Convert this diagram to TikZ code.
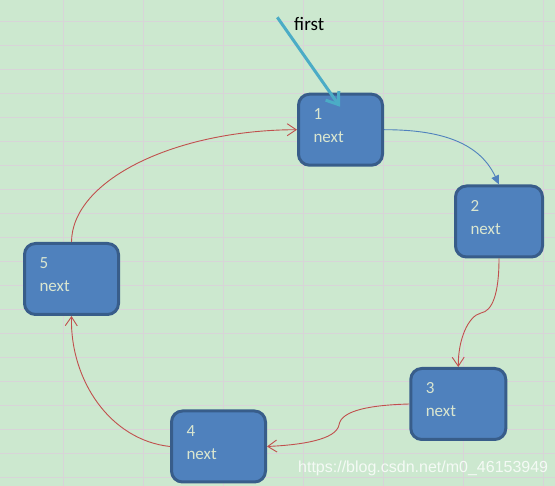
\documentclass[tikz,border=0pt]{standalone}
\usepackage{fontspec}
\setmainfont{Carlito}
\newfontfamily\markfont{Liberation Sans}
\usetikzlibrary{calc,arrows.meta,positioning}
\definecolor{sheetgreen}{RGB}{204,232,207}
\definecolor{sheetgrid}{RGB}{216,212,216}
\definecolor{cellblue}{RGB}{79,129,189}
\definecolor{celledge}{RGB}{56,93,138}
\definecolor{celltext}{RGB}{218,230,208}
\definecolor{linkred}{RGB}{192,80,77}
\definecolor{headcyan}{RGB}{75,172,198}

\begin{document}
\begin{tikzpicture}[x=1pt,y=-1pt,
  every node/.style={font=\fontsize{17}{23}\selectfont},
  cell/.style={draw=celledge,fill=cellblue,line width=3pt,rounded corners=11pt,text=celltext,align=left,inner xsep=15pt,inner ysep=0pt,text height=25.5pt,text depth=45.5pt},
  link/.style={linkred,line width=0.9pt,-{Straight Barb[length=9pt,width=12pt]}},
  nextlink/.style={cellblue,line width=0.9pt,-{Triangle[length=9pt,width=8pt]}},
  headlink/.style={headcyan,line width=3pt,-{Straight Barb[length=11pt,width=16pt]}}]

% sheet background
\useasboundingbox (0,0) rectangle (555,486);
\fill[sheetgreen] (0,0) rectangle (555,486);
\foreach \gy in {21.7,45.7,...,478} \draw[sheetgrid,line width=1pt] (0,\gy)--(555,\gy);
\foreach \gx in {63.3,143.3,...,544} \draw[sheetgrid,line width=1pt] (\gx,0)--(\gx,486);

\node[cell,text width=54pt] (n1) at (340.5,129.7) {1\\next};
\node[cell,text width=57pt] (n2) at (499,221.5) {2\\next};
\node[cell,text width=65pt] (n3) at (458.3,404) {3\\next};
\node[cell,text width=64pt] (n4) at (218.5,446.5) {4\\next};
\node[cell,text width=64pt] (n5) at (71.5,279) {5\\next};

\draw[nextlink] (n1.east) to[out=0,in=115] (n2.north);
\draw[link] (n2.south) .. controls (499,295) and (492,311) .. (481,313)
  .. controls (468,316) and (458,340) .. (n3.north);
\draw[link] (n3.west) .. controls (372,405) and (341,410) .. (339,425)
  .. controls (336,440) and (300,445) .. (n4.east);
\draw[link] (n4.west) .. controls (110,440) and (70,380) .. (n5.south);
\draw[link] (n5.north) .. controls (72,180) and (175,130) .. (n1.west);

% head pointer
\coordinate (firsttail) at (277.3,17.3);
\coordinate (firsttip) at ($(n1.north)+(-0.5,14)$);
\draw[headlink] (firsttail)--(firsttip);
\node[anchor=base west,inner sep=0pt,font=\fontsize{19}{23}\selectfont] (firstlabel) at (294,30.7) {first};

\node[anchor=base west,inner sep=0pt,font=\markfont\fontsize{16}{18}\selectfont,text=white,text opacity=0.8] (mark) at (298,472.7) {https://blog.csdn.net/m0\_46153949};
\end{tikzpicture}
\end{document}
